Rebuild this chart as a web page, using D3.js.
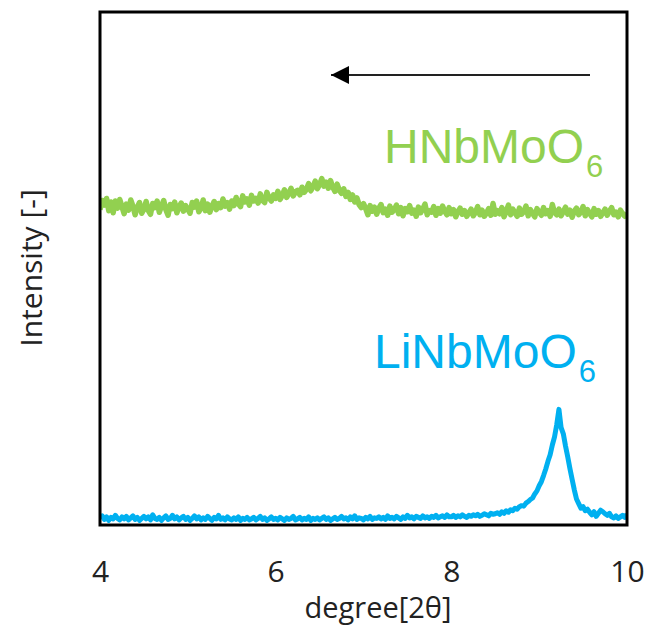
<!DOCTYPE html>
<html><head><meta charset="utf-8">
<script src="https://cdn.jsdelivr.net/npm/d3@7/dist/d3.min.js"></script>
<style>body{margin:0;background:#fff}svg{display:block}</style>
</head><body>
<script>
// ---- data ----
const xStart = 4, xStep = 0.025;          // 2θ sampling grid
const xTicks = [4, 6, 8, 10];
const seriesNames = ["HNbMoO", "LiNbMoO"];
const hnbmoo6 = [
 61.2,63.0,62.1,63.4,61.0,62.7,60.6,62.9,61.5,63.2,
 61.8,60.4,62.3,61.1,63.1,61.9,60.2,61.7,62.6,60.5,
 61.3,62.8,61.0,60.3,62.4,61.6,62.9,60.7,61.9,63.0,
 61.2,60.1,62.2,61.4,62.7,60.6,61.8,62.5,60.9,62.0,
 61.3,60.5,62.6,61.7,62.9,60.8,61.5,63.1,61.0,62.3,
 60.7,61.9,62.8,61.2,62.4,61.6,63.3,61.9,62.6,61.3,
 62.9,
 62.0,63.6,62.4,61.8,63.9,62.7,63.3,62.1,64.0,62.9,
 63.4,62.5,64.3,63.0,62.6,64.6,63.5,62.9,64.1,63.4,
 64.8,63.2,64.0,65.1,63.6,64.4,65.4,63.9,64.7,65.0,
 64.1,65.6,64.6,65.2,66.3,64.9,65.7,66.8,65.3,66.1,
 67.3,65.8,66.6,65.4,66.9,65.6,64.8,66.2,65.0,64.4,
 65.3,63.8,64.6,63.2,64.1,62.7,63.5,62.2,61.6,62.4,
 61.4,60.2,62.0,60.9,61.7,60.3,61.5,62.2,60.6,61.3,
 60.1,61.9,60.7,61.2,62.1,60.4,61.6,60.0,61.4,60.8,
 62.0,60.5,61.1,59.9,61.7,60.6,61.3,62.3,60.2,61.0,
 60.7,61.8,60.1,61.4,60.5,61.9,60.9,60.2,61.6,60.4,
 61.2,59.8,60.8,61.5,60.3,61.0,59.9,60.6,61.3,60.0,
 60.7,61.8,60.2,61.1,59.9,60.5,61.4,60.1,62.4,60.3,
 61.0,60.4,61.6,59.8,60.9,62.1,60.2,61.3,60.6,59.9,
 61.5,60.3,60.8,61.9,60.0,61.2,60.5,59.8,61.4,60.7,
 60.1,61.6,60.4,61.0,59.9,62.2,60.6,60.2,61.3,60.0,
 60.8,61.7,60.3,61.1,59.7,60.9,61.5,60.2,60.7,61.8,
 60.0,61.2,60.5,59.8,61.4,60.3,61.0,59.9,60.6,61.3,
 60.1,60.9,61.6,60.2,60.7,59.8,61.1,60.4,59.9,60.5
];
const linbmoo6 = [
 0.7,1.1,0.4,0.9,0.2,0.8,0.5,1.2,0.6,0.3,
 0.9,0.5,1.0,0.3,0.7,1.1,0.4,0.8,0.2,0.6,
 1.0,0.5,0.9,0.3,1.3,0.6,0.4,0.8,0.2,0.7,
 1.1,0.4,0.6,1.2,0.5,0.9,0.3,0.7,1.0,0.4,
 0.8,0.2,0.6,1.1,0.5,0.9,0.3,0.7,0.4,1.0,
 0.6,0.2,0.8,0.5,1.2,0.4,0.7,0.3,0.9,0.5,
 0.3,0.7,0.4,0.9,0.2,0.6,0.4,0.8,0.3,0.5,
 0.8,0.3,0.6,1.0,0.4,0.7,0.2,0.5,0.9,0.4,
 0.6,0.3,0.8,0.5,0.2,0.7,0.4,0.6,1.0,0.3,
 0.5,0.8,0.3,0.6,0.4,0.9,0.2,0.6,0.4,0.7,
 0.3,0.6,0.9,0.4,0.7,0.2,0.5,0.8,0.4,0.6,
 1.0,0.5,0.7,0.3,0.9,0.5,1.1,0.4,0.7,0.6,
 0.3,0.8,0.5,1.0,0.4,0.7,0.6,0.9,0.5,0.8,
 0.4,1.1,0.6,0.8,0.5,1.0,0.7,0.4,0.9,0.6,
 1.2,0.7,0.9,0.5,1.0,0.8,0.6,1.1,0.7,0.9,
 0.6,1.0,0.8,1.2,0.7,0.9,1.1,0.8,1.3,0.9,
 0.9,1.2,0.8,1.1,0.9,1.3,1.0,0.8,1.2,1.0,
 1.3,1.1,1.4,1.0,1.2,1.5,1.3,1.1,1.6,1.4,
 1.5,
 1.7,1.4,1.9,1.6,2.1,1.8,2.3,2.1,2.6,2.4,
 2.9,3.1,3.0,3.6,3.9,4.3,4.6,5.4,6.0,7.0,
 7.8,9.0,10.3,11.8,13.1,15.0,16.6,19.0,22.0,18.4,
 17.2,14.8,12.7,10.4,8.3,6.2,4.4,3.5,2.6,2.9,
 2.1,2.4,1.8,1.3,1.9,1.0,1.6,2.2,1.9,1.5,
 1.2,1.6,0.9,0.7,1.1,0.6,0.9,1.2,0.8,1.4
];
const colors = ["#92D050", "#00B0F0"];
const strokeW = [5.5, 5];

// ---- chart ----
const W = 649, H = 644;
const L = 100, R = 627, T = 12, B = 525;
const svg = d3.select("body").append("svg").attr("width", W).attr("height", H);

const x = d3.scaleLinear().domain([4, 10]).range([L, R]);
const y = d3.scaleLinear().domain([-0.7, 100]).range([B, T]);

const toPts = arr => arr.map((v, i) => [xStart + i * xStep, v]);
const line = d3.line().x(d => x(d[0])).y(d => y(d[1]));

svg.append("clipPath").attr("id", "c").append("rect")
  .attr("x", L).attr("y", T).attr("width", R - L).attr("height", B - T);

[hnbmoo6, linbmoo6].forEach((s, k) => {
  svg.append("path").datum(toPts(s)).attr("d", line)
    .attr("fill", "none").attr("stroke", colors[k]).attr("stroke-width", strokeW[k])
    .attr("stroke-linejoin", "round").attr("clip-path", "url(#c)");
});

// frame
svg.append("rect").attr("x", L).attr("y", T).attr("width", R - L).attr("height", B - T)
  .attr("fill", "none").attr("stroke", "#000").attr("stroke-width", 3);

const axisFont = "'Open Sans', Lato, sans-serif";
// x axis tick labels
const xa = svg.append("g").attr("transform", `translate(0,${B})`)
  .call(d3.axisBottom(x).tickValues(xTicks).tickSize(0).tickPadding(36).tickFormat(d3.format("d")));
xa.select(".domain").remove();
xa.selectAll("text").attr("font-family", axisFont).attr("font-size", 30).attr("fill", "#222");

svg.append("text").attr("x", 378).attr("y", 618).attr("text-anchor", "middle")
  .attr("font-family", axisFont).attr("font-size", 29).attr("fill", "#222")
  .text("degree[2θ]");
svg.append("text").attr("transform", "translate(42,268) rotate(-90)").attr("text-anchor", "middle")
  .attr("font-family", axisFont).attr("font-size", 30).attr("fill", "#222")
  .text("Intensity [-]");

// series labels
function label(name, xPos, yPos, col) {
  const t = svg.append("text").attr("x", xPos).attr("y", yPos)
    .attr("font-family", "'Liberation Sans', Arial, sans-serif").attr("font-size", 48)
    .attr("fill", col);
  t.append("tspan").text(name);
  t.append("tspan").attr("dx", 2).attr("dy", 14).attr("font-size", 31).text("6");
}
label(seriesNames[0], 384, 163, colors[0]);
label(seriesNames[1], 374, 368, colors[1]);

// arrow
svg.append("defs").append("marker").attr("id", "ah").attr("viewBox", "0 0 10 10")
  .attr("refX", 10).attr("refY", 5).attr("markerWidth", 22).attr("markerHeight", 18)
  .attr("markerUnits", "userSpaceOnUse").attr("orient", "auto")
  .append("path").attr("d", "M0,0 L10,5 L0,10 Z").attr("fill", "#000");
svg.append("line").attr("x1", 590).attr("y1", 75).attr("x2", 331).attr("y2", 75)
  .attr("stroke", "#222").attr("stroke-width", 2).attr("marker-end", "url(#ah)");
</script>
</body></html>
